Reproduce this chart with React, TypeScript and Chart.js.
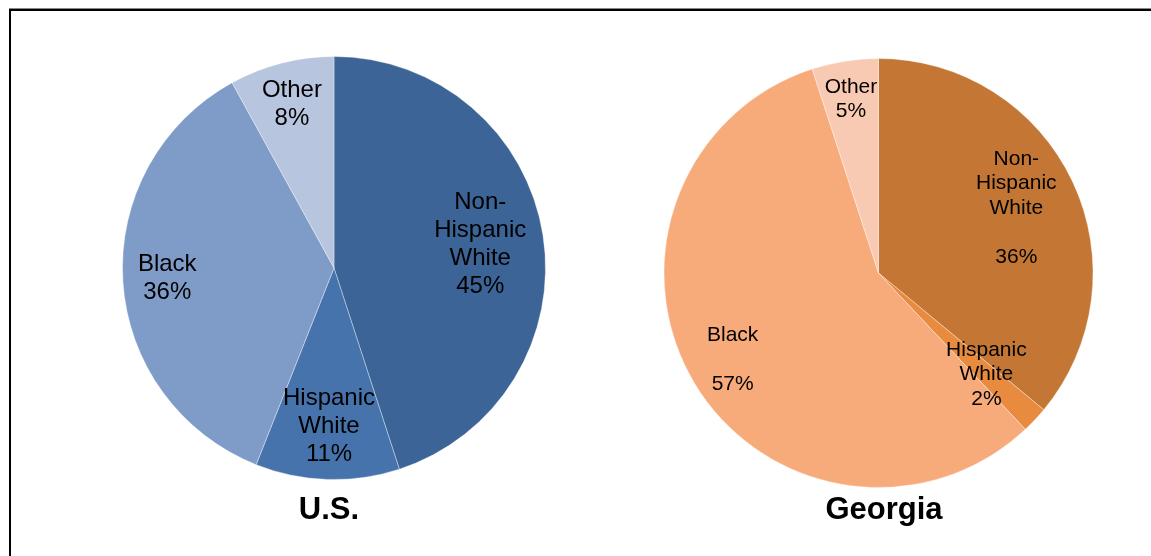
import React, { useEffect, useRef } from "react";
import { Chart, registerables } from "chart.js";

Chart.register(...registerables);

const categories = ["Non-Hispanic White", "Hispanic White", "Black", "Other"];
const usValues = [45, 11, 36, 8];
const gaValues = [36, 2, 57, 5];
const usTitle = "U.S.";
const gaTitle = "Georgia";
const usLabelLines = [["Non-", "Hispanic", "White"], ["Hispanic", "White"], ["Black"], ["Other"]];
const gaLabelLines = [["Non-", "Hispanic", "White"], ["Hispanic", "White"], ["Black"], ["Other"]];
const usLabelGaps = [0, 0, 0, 0];
const gaLabelGaps = [1, 0, 1, 0];
const usColors = ["#3C6496", "#4673AC", "#7F9CC8", "#B8C5DF"];
const gaColors = ["#C47734", "#E98B3F", "#F7AA7A", "#F9CAB3"];

type PieSpec = {
  values: number[];
  colors: string[];
  lines: string[][];
  gaps: number[];
  fracs: number[];
  fontSize: number;
  lineHeight: number;
  title: string;
  titleX: number;
  padding: { left: number; right: number; top: number; bottom: number };
};

const labelPlugin = {
  id: "sliceLabels",
  afterDraw(chart: any, _args: any, opts: any) {
    const spec: PieSpec = opts.spec;
    const ctx = chart.ctx;
    const meta = chart.getDatasetMeta(0);
    ctx.save();
    ctx.fillStyle = "#000";
    ctx.textAlign = "center";
    ctx.textBaseline = "middle";
    ctx.font = `${spec.fontSize}px "Liberation Sans", Arial, sans-serif`;
    meta.data.forEach((arc: any, i: number) => {
      const p = arc.getProps(["x", "y", "startAngle", "endAngle", "outerRadius"], true);
      const mid = (p.startAngle + p.endAngle) / 2;
      const r = p.outerRadius * spec.fracs[i];
      const cx = p.x + Math.cos(mid) * r;
      const cy = p.y + Math.sin(mid) * r;
      const lines = [...spec.lines[i]];
      for (let g = 0; g < spec.gaps[i]; g++) lines.push("");
      lines.push(`${spec.values[i]}%`);
      const n = lines.length;
      lines.forEach((t, k) => {
        if (!t) return;
        const y = cy + (k - (n - 1) / 2) * spec.lineHeight;
        ctx.fillText(t, cx, y);
      });
    });
    ctx.font = `bold 31px "Liberation Sans", Arial, sans-serif`;
    ctx.textBaseline = "alphabetic";
    ctx.fillText(spec.title, spec.titleX, 519);
    ctx.restore();
  },
};

function PieCanvas({ spec, left, width }: { spec: PieSpec; left: number; width: number }) {
  const ref = useRef<HTMLCanvasElement>(null);
  useEffect(() => {
    if (!ref.current) return;
    const chart = new Chart(ref.current, {
      type: "pie",
      data: {
        labels: categories,
        datasets: [
          {
            data: spec.values,
            backgroundColor: spec.colors,
            borderColor: "rgba(255,255,255,0.35)",
            borderWidth: 1,
          },
        ],
      },
      options: {
        animation: false,
        responsive: false,
        maintainAspectRatio: false,
        layout: { padding: spec.padding },
        plugins: {
          legend: { display: false },
          tooltip: { enabled: false },
          sliceLabels: { spec },
        } as any,
      },
      plugins: [labelPlugin],
    });
    return () => chart.destroy();
  }, []);
  return (
    <canvas
      ref={ref}
      width={width}
      height={556}
      style={{ position: "absolute", left, top: 0, width, height: 556 }}
    />
  );
}

export default function App() {
  const usSpec: PieSpec = {
    values: usValues,
    colors: usColors,
    lines: usLabelLines,
    gaps: usLabelGaps,
    fracs: [0.7, 0.75, 0.79, 0.8],
    fontSize: 24,
    lineHeight: 28,
    title: usTitle,
    titleX: 329,
    padding: { left: 122, right: 29, top: 56, bottom: 76 },
  };
  const gaSpec: PieSpec = {
    values: gaValues,
    colors: gaColors,
    lines: gaLabelLines,
    gaps: gaLabelGaps,
    fracs: [0.71, 0.69, 0.79, 0.82],
    fontSize: 21,
    lineHeight: 24.5,
    title: gaTitle,
    titleX: 884 - 575,
    padding: { left: 88, right: 57, top: 58, bottom: 68 },
  };
  return (
    <div
      style={{
        position: "absolute",
        left: 0,
        top: 0,
        width: 1151,
        height: 556,
        background: "#fff",
        overflow: "hidden",
      }}
    >
      <div
        style={{
          position: "absolute",
          left: 9,
          top: 9,
          width: 1142,
          height: 547,
          borderTop: "2px solid #000",
          borderLeft: "2px solid #000",
          boxShadow: "0 -1px 0 #888",
          boxSizing: "border-box",
        }}
      />
      <PieCanvas spec={usSpec} left={0} width={575} />
      <PieCanvas spec={gaSpec} left={575} width={576} />
    </div>
  );
}
